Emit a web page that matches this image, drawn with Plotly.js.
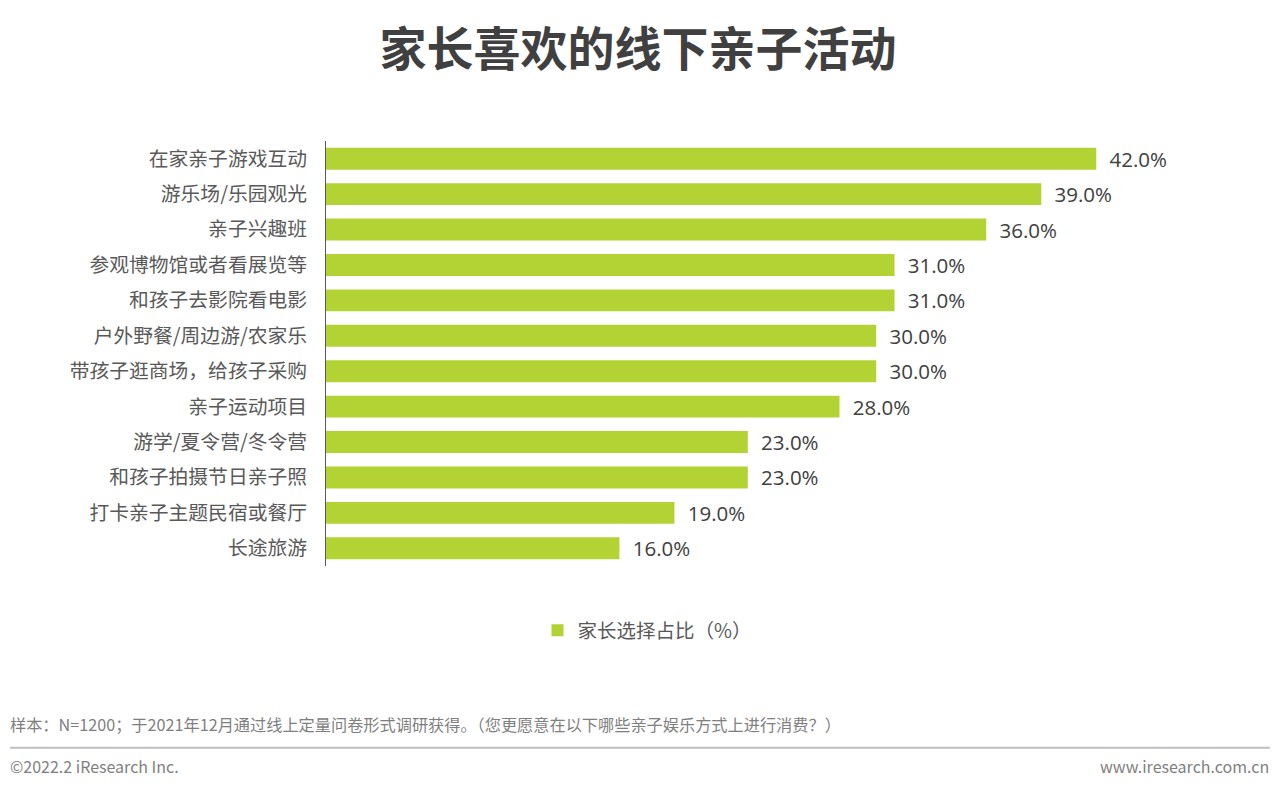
<!DOCTYPE html>
<html>
<head>
<meta charset="utf-8">
<script src="https://cdn.plot.ly/plotly-3.0.1.min.js"></script>
<style>
html,body{margin:0;padding:0;background:#fff;}
#chart{width:1280px;height:789px;}
</style>
</head>
<body>
<div id="chart"></div>
<script>
const categories = ["在家亲子游戏互动","游乐场/乐园观光","亲子兴趣班","参观博物馆或者看展览等","和孩子去影院看电影","户外野餐/周边游/农家乐","带孩子逛商场，给孩子采购","亲子运动项目","游学/夏令营/冬令营","和孩子拍摄节日亲子照","打卡亲子主题民宿或餐厅","长途旅游"];
const values = [42.0,39.0,36.0,31.0,31.0,30.0,30.0,28.0,23.0,23.0,19.0,16.0];
const seriesName = "家长选择占比（%）";
const titleText = "家长喜欢的线下亲子活动";
const noteText = "样本：N=1200；于2021年12月通过线上定量问卷形式调研获得。（您更愿意在以下哪些亲子娱乐方式上进行消费？）";
const copyText = "©2022.2 iResearch Inc.";
const siteText = "www.iresearch.com.cn";

const FONT = '"Noto Sans CJK SC", "Noto Sans", sans-serif';
const NUMFONT = '"Open Sans", "Noto Sans CJK SC", sans-serif';

const trace = {
  type: 'bar',
  orientation: 'h',
  y: categories,
  x: values,
  name: seriesName,
  marker: {color: '#B3D334'},
  width: 0.62,
  text: values.map(v => '\u2002' + v.toFixed(1) + '%'),
  textposition: 'outside',
  constraintext: 'none',
  cliponaxis: false,
  textfont: {family: NUMFONT, size: 20.5, color: '#404040'},
  hoverinfo: 'none'
};

const PW = 917, PH = 424.4, PT = 141, PL = 326;
const py = y => -(y - (PT + PH)) / PH;
const px = x => (x - PL) / PW;

const layout = {
  width: 1280, height: 789,
  margin: {l: PL, r: 37, t: PT, b: 223},
  paper_bgcolor: '#fff', plot_bgcolor: '#fff',
  font: {family: FONT, color: '#404040'},
  title: {text: '<b>' + titleText + '</b>', x: 638/1280, xanchor: 'center', y: 1 - 50/789, yanchor: 'middle', yref: 'container',
          font: {family: FONT, size: 47, color: '#404040', weight: 900}},
  xaxis: {range: [0, 50], visible: false, fixedrange: true},
  yaxis: {type: 'category', categoryorder: 'array', categoryarray: categories, range: [11.5, -0.5],
          showline: true, linecolor: '#595959', linewidth: 1, ticks: '', showgrid: false,
          tickfont: {family: FONT, size: 19.8, color: '#595959'}, ticklabelstandoff: 14, automargin: false},
  showlegend: true,
  legend: {orientation: 'h', x: px(647), xref: 'paper', xanchor: 'center', y: py(630), yref: 'paper', yanchor: 'middle',
           font: {family: FONT, size: 19.5, color: '#595959'}, itemwidth: 30, traceorder: 'normal'},
  shapes: [
    {type: 'line', xref: 'paper', yref: 'paper', x0: px(10), x1: px(1270), y0: py(747), y1: py(747),
     line: {color: '#BFBFBF', width: 2}}
  ],
  annotations: [
    {text: noteText, xref: 'paper', yref: 'paper', x: px(8), xanchor: 'left', y: py(723), yanchor: 'middle',
     showarrow: false, font: {family: FONT, size: 16.2, color: '#7F7F7F'}},
    {text: copyText, xref: 'paper', yref: 'paper', x: px(8), xanchor: 'left', y: py(765), yanchor: 'middle',
     showarrow: false, font: {family: FONT, size: 16, color: '#7F7F7F'}},
    {text: siteText, xref: 'paper', yref: 'paper', x: px(1271), xanchor: 'right', y: py(765), yanchor: 'middle',
     showarrow: false, font: {family: FONT, size: 16, color: '#7F7F7F'}}
  ]
};

Plotly.newPlot('chart', [trace], layout, {displayModeBar: false, staticPlot: true});
</script>
</body>
</html>
